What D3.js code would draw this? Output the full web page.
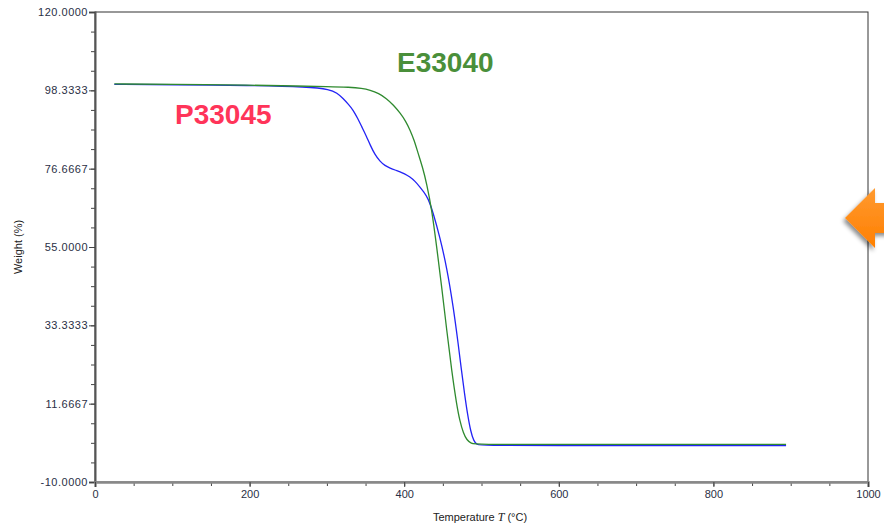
<!DOCTYPE html>
<html><head><meta charset="utf-8">
<script src="https://cdn.jsdelivr.net/npm/d3@7"></script>
<style>body{margin:0;background:#fff;} svg{display:block;}</style>
</head><body>
<script>
// ---- data ----
const yTickValues = [-10, 11.6667, 33.3333, 55, 76.6667, 98.3333, 120];
const xTickValues = [0, 200, 400, 600, 800, 1000];
const seriesNames = ["P33045", "E33040"];
const p33045T = [25, 100, 200, 276, 304, 313, 321, 328, 334, 340, 345, 351, 356, 362, 369, 375, 382, 388, 395, 400, 407.5, 414, 420, 425, 431, 437.7, 446, 455, 463.5, 470, 474, 478, 482, 486, 490, 494, 500, 600, 700, 800, 894];
const p33045W = [100.0, 99.9, 99.7, 99.3, 98.6, 97.6, 96.1, 94.4, 92.9, 90.5, 88.3, 85.7, 83.2, 80.6, 78.6, 77.5, 76.8, 76.3, 75.8, 75.3, 74.4, 73.2, 71.7, 70.3, 68.5, 64.3, 57.8, 49.5, 38.5, 28.0, 21.0, 14.5, 8.6, 4.0, 1.3, 0.3, 0.1, 0.1, 0.1, 0.1, 0.1];
const e33040T = [25, 100, 200, 265, 300, 330, 345, 356, 367, 377, 386, 395, 402, 407.5, 413, 418, 424, 429, 435.6, 442, 448.5, 455, 461.5, 468, 472, 476.5, 481, 487, 492, 600, 700, 800, 894];
const e33040W = [100.1, 100.0, 99.8, 99.5, 99.4, 99.2, 98.9, 98.4, 97.5, 96.1, 94.3, 92.0, 89.8, 87.4, 84.5, 80.9, 76.9, 72.6, 65.5, 55.1, 44.0, 32.0, 20.6, 11.2, 6.9, 3.5, 1.6, 0.6, 0.4, 0.4, 0.4, 0.4, 0.4];

const W = 884, H = 525;
const L = 95, R = 868, T = 12, B = 482;
const svg = d3.select("body").append("svg").attr("width", W).attr("height", H)
  .style("font-family", "'Liberation Sans', Arial, sans-serif");

const x = d3.scaleLinear().domain([0, 1000]).range([L, R]);
const y = d3.scaleLinear().domain([-10, 120]).range([B, T]);

// frame
svg.append("rect").attr("x", L).attr("y", T).attr("width", R - L).attr("height", B - T)
  .attr("fill", "none").attr("stroke", "#333").attr("stroke-width", 1);

// y axis
const yStep = 130 / 6;
const yMinor = d3.range(0, 25).map(i => -10 + i * yStep / 4);
svg.append("g").attr("transform", `translate(${L},0)`)
  .call(d3.axisLeft(y).tickValues(yMinor).tickSize(4).tickFormat(""))
  .call(g => g.select(".domain").remove())
  .call(g => g.selectAll("line").attr("stroke", "#444"));
const gy = svg.append("g").attr("transform", `translate(${L},0)`)
  .call(d3.axisLeft(y).tickValues(yTickValues).tickSize(6).tickPadding(1).tickFormat(d => d.toFixed(4)));
gy.select(".domain").attr("stroke", "#555").attr("stroke-width", 2);
gy.selectAll("line").attr("stroke", "#444");
gy.selectAll("text").attr("font-size", 11).attr("fill", "#2a2f45")
  .attr("font-family", "'Liberation Sans', Arial, sans-serif").style("letter-spacing", "0.5px");

// x axis
const xMinor = d3.range(0, 1001, 50);
svg.append("g").attr("transform", `translate(0,${B})`)
  .call(d3.axisBottom(x).tickValues(xMinor).tickSize(4).tickFormat(""))
  .call(g => g.select(".domain").remove())
  .call(g => g.selectAll("line").attr("stroke", "#444"));
const gx = svg.append("g").attr("transform", `translate(0,${B})`)
  .call(d3.axisBottom(x).tickValues(xTickValues).tickSize(5).tickPadding(3).tickFormat(d3.format("d")));
gx.select(".domain").attr("stroke", "#888").attr("stroke-width", 2.5);
gx.selectAll("line").attr("stroke", "#444");
gx.selectAll("text").attr("font-size", 11).attr("fill", "#2a2f45")
  .attr("font-family", "'Liberation Sans', Arial, sans-serif");

// axis titles
svg.append("text").attr("transform", "translate(22,247) rotate(-90)")
  .attr("text-anchor", "middle").attr("font-size", 11).attr("fill", "#222").text("Weight (%)");
const xt = svg.append("text").attr("x", 480).attr("y", 521).attr("text-anchor", "middle")
  .attr("font-size", 11).attr("fill", "#222");
xt.append("tspan").text("Temperature ");
xt.append("tspan").attr("font-family", "'Liberation Serif', 'DejaVu Serif', serif").attr("font-style", "italic").attr("font-size", 12).text("T");
xt.append("tspan").text(" (°C)");

// curves
const line = d3.line().x(d => x(d[0])).y(d => y(d[1])).curve(d3.curveBasis);
const blueData = p33045T.map((t, i) => [t, p33045W[i]]);
const greenData = e33040T.map((t, i) => [t, e33040W[i]]);
svg.append("path").datum(blueData).attr("d", line).attr("fill", "none")
  .attr("stroke", "#2323f5").attr("stroke-width", 1.3);
svg.append("path").datum(greenData).attr("d", line).attr("fill", "none")
  .attr("stroke", "#2f8a2f").attr("stroke-width", 1.3);

// labels
svg.append("text").attr("x", 397).attr("y", 72).attr("font-size", 28).attr("font-weight", "bold")
  .attr("fill", "#4a8f3a").text(seriesNames[1]);
svg.append("text").attr("x", 175).attr("y", 124).attr("font-size", 28).attr("font-weight", "bold")
  .attr("fill", "#ff3459").text(seriesNames[0]);

// orange arrow
const defs = svg.append("defs");
const grad = defs.append("linearGradient").attr("id", "og").attr("x1", 0).attr("y1", 0).attr("x2", 0).attr("y2", 1);
grad.append("stop").attr("offset", "0%").attr("stop-color", "#ff9a30");
grad.append("stop").attr("offset", "100%").attr("stop-color", "#ff7f00");
const f = defs.append("filter").attr("id", "sh").attr("x", "-50%").attr("y", "-50%").attr("width", "200%").attr("height", "200%");
f.append("feDropShadow").attr("dx", -2).attr("dy", 3).attr("stdDeviation", 2)
  .attr("flood-color", "#000").attr("flood-opacity", 0.45);
svg.append("path")
  .attr("d", "M845,218 L875,188 L875,203 L895,203 L895,233 L875,233 L875,248 Z")
  .attr("fill", "url(#og)").attr("filter", "url(#sh)");
</script>
</body></html>
